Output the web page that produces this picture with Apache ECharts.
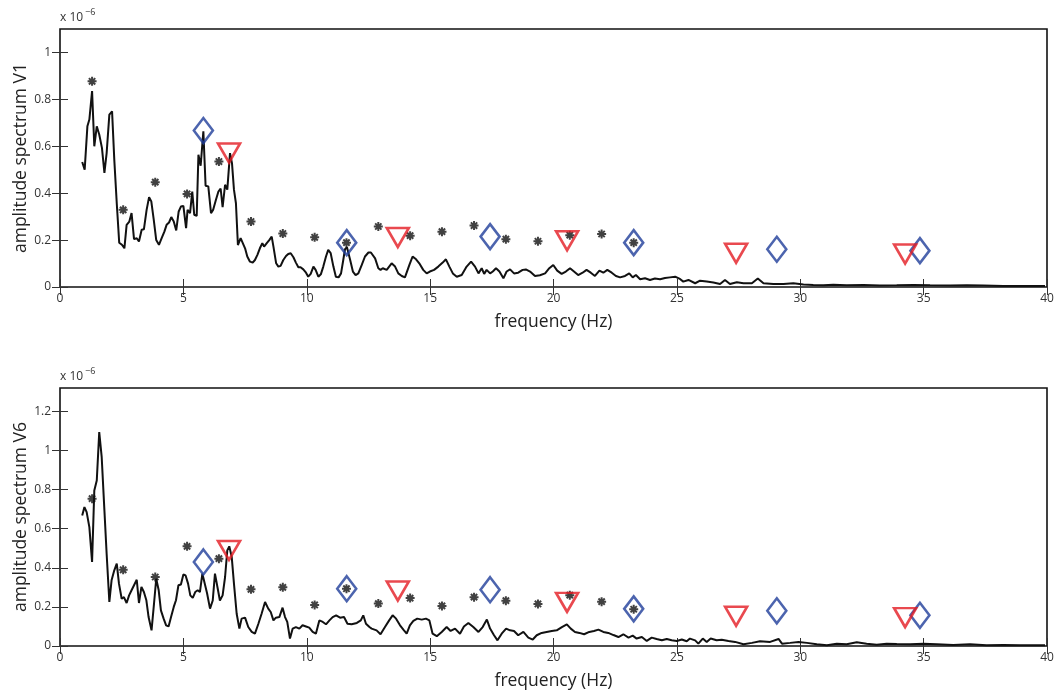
<!DOCTYPE html>
<html>
<head>
<meta charset="utf-8">
<script src="https://cdn.jsdelivr.net/npm/echarts@6/dist/echarts.min.js"></script>
<style>
  html, body { margin: 0; padding: 0; background: #fff; }
  #chart { width: 1055px; height: 690px; }
</style>
</head>
<body>
<div id="chart"></div>
<script>
// amplitudes in units of 1e-6
const xTicks = [0, 5, 10, 15, 20, 25, 30, 35, 40];
const yTicksV1 = [0, 0.2, 0.4, 0.6, 0.8, 1];
const yTicksV6 = [0, 0.2, 0.4, 0.6, 0.8, 1, 1.2];

const starFreq = [1.30, 2.56, 3.86, 5.15, 6.44, 7.74, 9.03, 10.32, 11.61, 12.90, 14.19, 15.48, 16.78, 18.07, 19.37, 20.66, 21.95, 23.25];
const diamondFreq = [5.81, 11.62, 17.43, 23.25, 29.05, 34.85];
const triangleFreq = [6.85, 13.69, 20.55, 27.40, 34.25];

const starV1 = [0.877, 0.329, 0.447, 0.397, 0.535, 0.279, 0.228, 0.212, 0.189, 0.258, 0.219, 0.236, 0.262, 0.204, 0.195, 0.221, 0.226, 0.189];
const diamondV1 = [0.667, 0.189, 0.215, 0.189, 0.161, 0.155];
const triangleV1 = [0.571, 0.211, 0.197, 0.144, 0.141];

const starV6 = [0.754, 0.39, 0.353, 0.51, 0.447, 0.29, 0.30, 0.21, 0.293, 0.217, 0.245, 0.205, 0.25, 0.232, 0.215, 0.26, 0.227, 0.188];
const diamondV6 = [0.43, 0.293, 0.288, 0.19, 0.18, 0.157];
const triangleV6 = [0.489, 0.281, 0.223, 0.152, 0.145];

const v1Line = [[0.9,0.533],[1.0,0.50],[1.11,0.685],[1.19,0.714],[1.3,0.835],[1.39,0.60],[1.49,0.685],[1.59,0.65],[1.7,0.593],[1.8,0.486],[1.89,0.571],[2.0,0.735],[2.11,0.749],[2.2,0.543],[2.3,0.357],[2.4,0.189],[2.51,0.18],[2.61,0.165],[2.7,0.265],[2.81,0.279],[2.9,0.315],[3.0,0.204],[3.11,0.208],[3.2,0.194],[3.31,0.244],[3.4,0.246],[3.51,0.329],[3.61,0.383],[3.7,0.365],[3.8,0.286],[3.9,0.2],[4.01,0.18],[4.12,0.208],[4.23,0.236],[4.32,0.265],[4.42,0.275],[4.51,0.298],[4.61,0.279],[4.71,0.241],[4.81,0.322],[4.9,0.343],[5.0,0.346],[5.11,0.251],[5.17,0.329],[5.27,0.315],[5.36,0.407],[5.44,0.308],[5.54,0.303],[5.61,0.564],[5.7,0.517],[5.81,0.664],[5.9,0.432],[6.01,0.429],[6.12,0.315],[6.21,0.33],[6.32,0.372],[6.42,0.407],[6.51,0.42],[6.59,0.34],[6.69,0.436],[6.78,0.415],[6.89,0.571],[6.97,0.528],[7.05,0.415],[7.13,0.357],[7.21,0.179],[7.32,0.208],[7.4,0.215],[7.5,0.165],[7.59,0.13],[7.7,0.108],[7.81,0.104],[7.9,0.115],[8.0,0.137],[8.1,0.165],[8.2,0.187],[8.27,0.172],[8.38,0.187],[8.48,0.2],[8.58,0.215],[8.65,0.172],[8.76,0.101],[8.85,0.087],[8.94,0.09],[9.05,0.115],[9.16,0.132],[9.25,0.141],[9.35,0.144],[9.46,0.127],[9.56,0.104],[9.66,0.084],[9.75,0.084],[9.86,0.075],[9.97,0.061],[10.06,0.044],[10.16,0.056],[10.27,0.087],[10.36,0.073],[10.47,0.044],[10.57,0.054],[10.67,0.087],[10.78,0.13],[10.87,0.158],[10.97,0.144],[11.08,0.087],[11.18,0.044],[11.29,0.041],[11.39,0.058],[11.48,0.115],[11.55,0.161],[11.63,0.17],[11.76,0.115],[11.87,0.066],[11.98,0.051],[12.09,0.058],[12.23,0.094],[12.36,0.13],[12.5,0.147],[12.6,0.147],[12.77,0.122],[12.9,0.08],[12.99,0.073],[13.08,0.08],[13.24,0.073],[13.44,0.101],[13.58,0.087],[13.71,0.058],[13.85,0.047],[13.98,0.041],[14.16,0.094],[14.29,0.13],[14.43,0.118],[14.56,0.101],[14.72,0.073],[14.86,0.058],[14.99,0.066],[15.16,0.073],[15.33,0.087],[15.51,0.104],[15.64,0.118],[15.78,0.087],[15.92,0.058],[16.08,0.044],[16.28,0.051],[16.48,0.087],[16.66,0.108],[16.82,0.087],[16.96,0.058],[17.09,0.08],[17.19,0.056],[17.29,0.073],[17.43,0.058],[17.54,0.066],[17.67,0.08],[17.81,0.066],[17.97,0.037],[18.1,0.066],[18.24,0.075],[18.4,0.058],[18.57,0.061],[18.75,0.073],[18.88,0.075],[19.05,0.066],[19.25,0.047],[19.45,0.05],[19.66,0.058],[19.83,0.08],[19.99,0.094],[20.15,0.07],[20.33,0.056],[20.5,0.066],[20.67,0.08],[20.83,0.066],[21.0,0.051],[21.18,0.061],[21.34,0.073],[21.51,0.061],[21.68,0.047],[21.86,0.07],[22.02,0.061],[22.18,0.073],[22.36,0.061],[22.53,0.047],[22.7,0.041],[22.9,0.047],[23.07,0.058],[23.21,0.041],[23.34,0.051],[23.51,0.033],[23.71,0.037],[23.91,0.03],[24.11,0.036],[24.32,0.033],[24.52,0.038],[24.72,0.041],[24.93,0.044],[25.1,0.036],[25.26,0.023],[25.47,0.03],[25.74,0.016],[25.94,0.027],[26.21,0.023],[26.48,0.019],[26.75,0.013],[26.95,0.03],[27.15,0.013],[27.43,0.02],[27.7,0.016],[28.04,0.016],[28.28,0.036],[28.51,0.016],[28.91,0.013],[29.32,0.013],[29.72,0.016],[30.13,0.011],[30.53,0.009],[30.94,0.007],[31.34,0.01],[31.88,0.007],[32.56,0.009],[33.23,0.006],[33.91,0.007],[34.59,0.009],[35.26,0.007],[36.07,0.006],[36.75,0.007],[37.42,0.006],[38.23,0.004],[39.04,0.004],[39.92,0.004]];

const v6Line = [[0.9,0.668],[0.99,0.711],[1.08,0.685],[1.19,0.608],[1.3,0.43],[1.39,0.796],[1.49,0.847],[1.59,1.094],[1.69,0.966],[1.8,0.694],[1.89,0.472],[2.0,0.225],[2.09,0.336],[2.2,0.387],[2.3,0.421],[2.39,0.319],[2.5,0.242],[2.59,0.25],[2.7,0.22],[2.8,0.259],[2.9,0.285],[3.0,0.311],[3.11,0.339],[3.2,0.22],[3.3,0.302],[3.4,0.276],[3.5,0.234],[3.59,0.148],[3.71,0.08],[3.81,0.217],[3.9,0.344],[4.0,0.285],[4.09,0.182],[4.2,0.14],[4.3,0.106],[4.4,0.1],[4.5,0.148],[4.61,0.2],[4.7,0.234],[4.8,0.311],[4.9,0.315],[5.0,0.366],[5.09,0.361],[5.19,0.319],[5.28,0.259],[5.38,0.246],[5.48,0.276],[5.58,0.285],[5.67,0.276],[5.77,0.37],[5.85,0.38],[5.96,0.27],[6.08,0.191],[6.19,0.233],[6.28,0.37],[6.38,0.302],[6.48,0.233],[6.59,0.259],[6.69,0.353],[6.78,0.489],[6.86,0.51],[6.96,0.455],[7.05,0.319],[7.16,0.165],[7.27,0.089],[7.36,0.14],[7.5,0.145],[7.63,0.097],[7.77,0.072],[7.9,0.063],[8.04,0.114],[8.17,0.165],[8.31,0.225],[8.44,0.191],[8.54,0.174],[8.65,0.131],[8.75,0.145],[8.89,0.148],[9.02,0.196],[9.12,0.148],[9.21,0.123],[9.32,0.038],[9.43,0.089],[9.56,0.097],[9.7,0.089],[9.83,0.106],[9.97,0.1],[10.1,0.094],[10.24,0.072],[10.37,0.063],[10.51,0.131],[10.65,0.123],[10.78,0.111],[10.92,0.131],[11.05,0.148],[11.19,0.157],[11.35,0.145],[11.51,0.148],[11.65,0.114],[11.82,0.111],[12.03,0.118],[12.19,0.131],[12.29,0.157],[12.4,0.114],[12.54,0.097],[12.63,0.089],[12.83,0.08],[12.99,0.06],[13.17,0.097],[13.34,0.131],[13.48,0.157],[13.62,0.14],[13.78,0.106],[13.94,0.08],[14.05,0.063],[14.18,0.106],[14.32,0.128],[14.48,0.14],[14.66,0.135],[14.83,0.14],[14.97,0.131],[15.1,0.063],[15.27,0.05],[15.47,0.072],[15.67,0.097],[15.83,0.077],[16.01,0.089],[16.21,0.063],[16.37,0.1],[16.55,0.118],[16.75,0.097],[16.96,0.072],[17.13,0.097],[17.3,0.135],[17.43,0.089],[17.59,0.055],[17.73,0.029],[17.9,0.063],[18.08,0.089],[18.24,0.08],[18.4,0.077],[18.57,0.055],[18.78,0.072],[18.98,0.043],[19.16,0.033],[19.32,0.055],[19.52,0.067],[19.72,0.072],[19.93,0.077],[20.13,0.08],[20.34,0.097],[20.54,0.111],[20.7,0.089],[20.87,0.072],[21.05,0.067],[21.24,0.06],[21.45,0.072],[21.64,0.077],[21.82,0.084],[22.02,0.072],[22.22,0.067],[22.43,0.056],[22.63,0.046],[22.83,0.06],[23.04,0.043],[23.21,0.053],[23.37,0.038],[23.58,0.046],[23.78,0.026],[23.98,0.043],[24.18,0.036],[24.39,0.029],[24.59,0.036],[24.79,0.029],[25.0,0.026],[25.2,0.033],[25.4,0.024],[25.53,0.038],[25.74,0.029],[25.87,0.012],[26.05,0.038],[26.21,0.021],[26.37,0.038],[26.61,0.029],[26.82,0.032],[27.09,0.026],[27.36,0.021],[27.7,0.009],[28.04,0.016],[28.37,0.024],[28.78,0.021],[29.12,0.036],[29.26,0.012],[29.59,0.016],[29.93,0.021],[30.27,0.016],[30.67,0.009],[31.08,0.004],[31.48,0.012],[31.88,0.009],[32.29,0.019],[32.69,0.012],[33.1,0.007],[33.5,0.012],[33.91,0.01],[34.45,0.009],[34.99,0.012],[35.53,0.009],[36.2,0.005],[36.88,0.009],[37.55,0.004],[38.23,0.005],[38.91,0.004],[39.92,0.004]];

const FONT = '"Open Sans", "Noto Sans", sans-serif';
const STAR = 'path://M5 0 L5 10 M0 5 L10 5 M1.5 1.5 L8.5 8.5 M8.5 1.5 L1.5 8.5';

const zip = (xs, ys) => xs.map((x, i) => [x, ys[i]]);

const tick = { show: true, inside: true, length: 8, lineStyle: { color: '#333', width: 1 } };
const label = { color: '#333', fontSize: 12, fontFamily: FONT };

function xAxes(grid) {
  return [
    {
      gridIndex: grid, type: 'value', position: 'bottom', min: 0, max: 40, interval: 5,
      axisLine: { show: false }, axisTick: tick, splitLine: { show: false },
      axisLabel: Object.assign({ margin: 6 }, label),
      name: 'frequency (Hz)', nameLocation: 'middle', nameGap: 26,
      nameTextStyle: { color: '#222', fontSize: 17.5, fontFamily: FONT }
    },
    {
      gridIndex: grid, type: 'value', position: 'top', min: 0, max: 40, interval: 5,
      axisLine: { show: false }, axisTick: tick, splitLine: { show: false },
      axisLabel: { show: false }
    }
  ];
}

function yAxes(grid, max, ticks, name) {
  return [
    {
      gridIndex: grid, type: 'value', position: 'left', min: 0, max: max,
      axisLine: { show: false }, splitLine: { show: false },
      axisTick: Object.assign({ customValues: ticks }, tick),
      axisLabel: Object.assign({ customValues: ticks, margin: 9 }, label),
      name: name, nameLocation: 'middle', nameGap: 30, nameMoveOverlap: false,
      nameTextStyle: { color: '#222', fontSize: 17.5, fontFamily: FONT }
    },
    {
      gridIndex: grid, type: 'value', position: 'right', min: 0, max: max,
      axisLine: { show: false }, splitLine: { show: false },
      axisTick: Object.assign({ customValues: ticks }, tick),
      axisLabel: { show: false }
    }
  ];
}

function panelSeries(xi, yi, line, stars, diamonds, triangles) {
  return [
    {
      type: 'line', xAxisIndex: xi, yAxisIndex: yi, data: line,
      showSymbol: false, symbol: 'none', animation: false,
      lineStyle: { color: '#111', width: 2 }, z: 2
    },
    {
      type: 'scatter', xAxisIndex: xi, yAxisIndex: yi, data: zip(starFreq, stars),
      symbol: STAR, symbolSize: 9, animation: false,
      itemStyle: { color: 'transparent', borderColor: '#111', borderWidth: 2 }, z: 3
    },
    {
      type: 'scatter', xAxisIndex: xi, yAxisIndex: yi, data: zip(diamondFreq, diamonds),
      symbol: 'diamond', symbolSize: [19, 25], animation: false,
      itemStyle: { color: 'transparent', borderColor: '#1f3d9a', borderWidth: 2.6 }, z: 4
    },
    {
      type: 'scatter', xAxisIndex: xi, yAxisIndex: yi, data: zip(triangleFreq, triangles),
      symbol: 'triangle', symbolRotate: 180, symbolSize: [22, 19], animation: false,
      itemStyle: { color: 'transparent', borderColor: '#e31b23', borderWidth: 2.6 }, z: 4
    }
  ];
}

const chart = echarts.init(document.getElementById('chart'), null, { renderer: 'canvas' });

chart.setOption({
  backgroundColor: '#fff',
  animation: false,
  grid: [
    { left: 60, right: 8, top: 29, height: 258, outerBoundsMode: 'none', show: true, borderColor: '#111', borderWidth: 1.6 },
    { left: 60, right: 8, top: 388, height: 258, outerBoundsMode: 'none', show: true, borderColor: '#111', borderWidth: 1.6 }
  ],
  xAxis: xAxes(0).concat(xAxes(1)),
  yAxis: yAxes(0, 1.1, yTicksV1, 'amplitude spectrum V1').concat(yAxes(1, 1.32, yTicksV6, 'amplitude spectrum V6')),
  graphic: [
    { type: 'text', left: 60, top: 12, style: { text: 'x 10', fontSize: 12, fontFamily: FONT, fill: '#333' } },
    { type: 'text', left: 85, top: 8, style: { text: '\u22126', fontSize: 9, fontFamily: FONT, fill: '#333' } },
    { type: 'text', left: 60, top: 371, style: { text: 'x 10', fontSize: 12, fontFamily: FONT, fill: '#333' } },
    { type: 'text', left: 85, top: 367, style: { text: '\u22126', fontSize: 9, fontFamily: FONT, fill: '#333' } }
  ],
  series: panelSeries(0, 0, v1Line, starV1, diamondV1, triangleV1)
    .concat(panelSeries(2, 2, v6Line, starV6, diamondV6, triangleV6))
});
</script>
</body>
</html>
